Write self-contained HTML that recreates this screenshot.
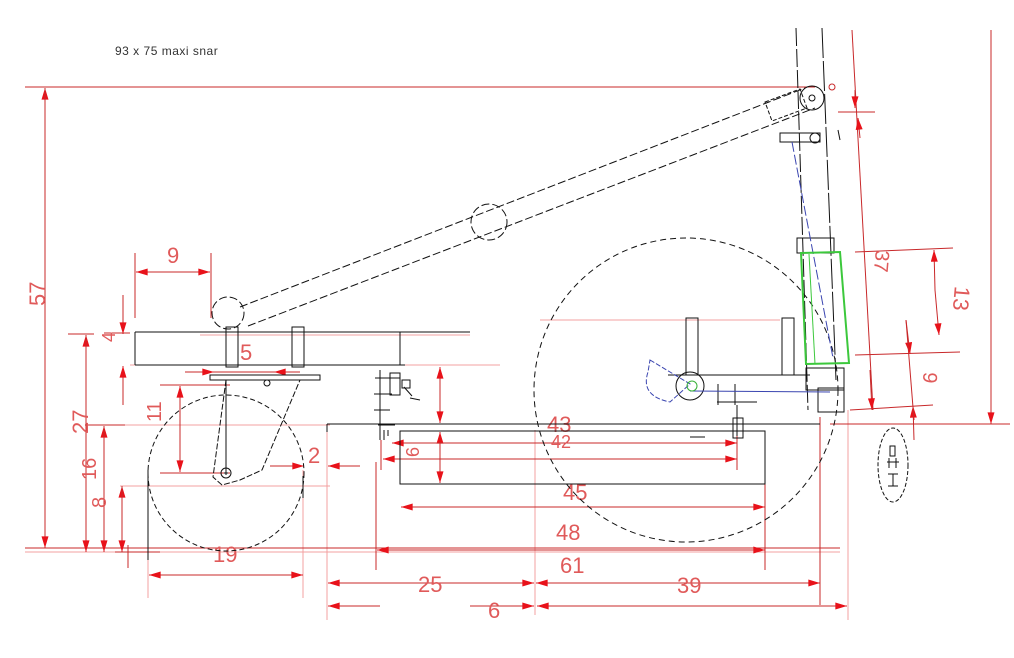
<!DOCTYPE html>
<html><head><meta charset="utf-8"><style>
html,body{margin:0;padding:0;background:#fff}
svg{display:block}
text{font-family:"Liberation Sans",sans-serif}
</style></head><body>
<svg width="1014" height="658" viewBox="0 0 1014 658" xmlns="http://www.w3.org/2000/svg">
<defs>
<marker id="a" viewBox="0 0 10 6" refX="10" refY="3" markerWidth="18" markerHeight="7" markerUnits="userSpaceOnUse" orient="auto"><path d="M0,0 L10,3 L0,6z" fill="#e8121a"/></marker>
</defs>
<rect width="1014" height="658" fill="#fff"/>
<text x="115" y="55" font-size="12" fill="#333" letter-spacing="0.5">93 x 75 maxi snar</text>

<g stroke="#f3a0a0" stroke-width="1" fill="none">
<line x1="25" y1="552" x2="840" y2="552"/>
<line x1="200" y1="335" x2="470" y2="335"/>
<line x1="100" y1="425" x2="330" y2="425"/>
<line x1="120" y1="486" x2="330" y2="486"/>
<line x1="130" y1="365" x2="500" y2="365"/>
<line x1="540" y1="320" x2="780" y2="320"/>
<line x1="535" y1="430" x2="535" y2="615"/>
<line x1="848" y1="410" x2="848" y2="620"/>
<line x1="327" y1="430" x2="327" y2="620"/>
<line x1="148" y1="550" x2="148" y2="598"/>
<line x1="303" y1="470" x2="303" y2="598"/>
</g>

<g stroke="#c8282a" stroke-width="1" fill="none">
<line x1="25" y1="87" x2="815" y2="87"/>
<line x1="25" y1="548" x2="840" y2="548"/>
<line x1="830" y1="424" x2="1010" y2="424"/>
<line x1="991" y1="30" x2="991" y2="424" marker-end="url(#a)"/>
<line x1="45" y1="548" x2="45" y2="88" marker-end="url(#a)"/>
<line x1="45" y1="88" x2="45" y2="548" marker-end="url(#a)"/>
<line x1="68" y1="334" x2="94" y2="334"/>
<line x1="86" y1="548" x2="86" y2="335" marker-end="url(#a)"/>
<line x1="86" y1="335" x2="86" y2="552" marker-end="url(#a)"/>
<line x1="85" y1="425" x2="125" y2="425"/>
<line x1="104" y1="548" x2="104" y2="426" marker-end="url(#a)"/>
<line x1="104" y1="426" x2="104" y2="552" marker-end="url(#a)"/>
<line x1="122" y1="548" x2="122" y2="486" marker-end="url(#a)"/>
<line x1="122" y1="486" x2="122" y2="552" marker-end="url(#a)"/>
<line x1="123" y1="295" x2="123" y2="334" marker-end="url(#a)"/>
<line x1="123" y1="405" x2="123" y2="366" marker-end="url(#a)"/>
<line x1="104" y1="333" x2="130" y2="333"/>
<line x1="135" y1="253" x2="135" y2="318"/>
<line x1="211" y1="253" x2="211" y2="318"/>
<line x1="172" y1="272" x2="136" y2="272" marker-end="url(#a)"/>
<line x1="172" y1="272" x2="210" y2="272" marker-end="url(#a)"/>
<line x1="185" y1="372" x2="290" y2="372"/>
<line x1="200" y1="372" x2="214" y2="372" marker-end="url(#a)"/>
<line x1="300" y1="372" x2="274" y2="372" marker-end="url(#a)"/>
<line x1="160" y1="385" x2="230" y2="385"/>
<line x1="160" y1="473" x2="230" y2="473"/>
<line x1="180" y1="430" x2="180" y2="386" marker-end="url(#a)"/>
<line x1="180" y1="430" x2="180" y2="472" marker-end="url(#a)"/>
<line x1="225" y1="575" x2="149" y2="575" marker-end="url(#a)"/>
<line x1="225" y1="575" x2="303" y2="575" marker-end="url(#a)"/>
<line x1="300" y1="466" x2="270" y2="466"/>
<line x1="280" y1="466" x2="304" y2="466" marker-end="url(#a)"/>
<line x1="360" y1="466" x2="328" y2="466" marker-end="url(#a)"/>
<line x1="128" y1="545" x2="128" y2="568"/>
<line x1="115" y1="552" x2="160" y2="552"/>
<line x1="440" y1="395" x2="440" y2="367" marker-end="url(#a)"/>
<line x1="440" y1="395" x2="440" y2="423" marker-end="url(#a)"/>
<line x1="440" y1="457" x2="440" y2="432" marker-end="url(#a)"/>
<line x1="440" y1="457" x2="440" y2="483" marker-end="url(#a)"/>
<line x1="460" y1="443" x2="392" y2="443" marker-end="url(#a)"/>
<line x1="460" y1="443" x2="737" y2="443" marker-end="url(#a)"/>
<line x1="420" y1="459" x2="383" y2="459" marker-end="url(#a)"/>
<line x1="420" y1="459" x2="737" y2="459" marker-end="url(#a)"/>
<line x1="737" y1="435" x2="737" y2="470"/>
<line x1="381" y1="440" x2="381" y2="470"/>
<line x1="560" y1="507" x2="401" y2="507" marker-end="url(#a)"/>
<line x1="560" y1="507" x2="765" y2="507" marker-end="url(#a)"/>
<line x1="765" y1="455" x2="765" y2="570"/>
<line x1="376" y1="462" x2="376" y2="570"/>
<line x1="410" y1="550" x2="377" y2="550" marker-end="url(#a)"/>
<line x1="410" y1="550" x2="765" y2="550" marker-end="url(#a)"/>
<line x1="380" y1="583" x2="328" y2="583" marker-end="url(#a)"/>
<line x1="380" y1="583" x2="534" y2="583" marker-end="url(#a)"/>
<line x1="600" y1="583" x2="536" y2="583" marker-end="url(#a)"/>
<line x1="600" y1="583" x2="820" y2="583" marker-end="url(#a)"/>
<line x1="820" y1="417" x2="820" y2="605"/>
<line x1="380" y1="606" x2="328" y2="606" marker-end="url(#a)"/>
<line x1="470" y1="606" x2="534" y2="606" marker-end="url(#a)"/>
<line x1="600" y1="606" x2="537" y2="606" marker-end="url(#a)"/>
<line x1="600" y1="606" x2="847" y2="606" marker-end="url(#a)"/>
<line x1="852" y1="30" x2="873" y2="410"/>
<line x1="855" y1="90" x2="855" y2="108" marker-end="url(#a)"/>
<line x1="860" y1="138" x2="858" y2="118" marker-end="url(#a)"/>
<line x1="838" y1="112" x2="875" y2="112"/>
<line x1="870" y1="370" x2="872" y2="410" marker-end="url(#a)"/>
<line x1="855" y1="252" x2="953" y2="248"/>
<line x1="855" y1="355" x2="960" y2="352"/>
<line x1="850" y1="410" x2="933" y2="405"/>
<line x1="935" y1="290" x2="934" y2="250" marker-end="url(#a)"/>
<line x1="935" y1="290" x2="939" y2="335" marker-end="url(#a)"/>
<line x1="906" y1="320" x2="910" y2="354" marker-end="url(#a)"/>
<line x1="914" y1="440" x2="913" y2="406" marker-end="url(#a)"/>
<line x1="906" y1="320" x2="914" y2="420"/>
<circle cx="832" cy="87" r="3"/>
</g>

<g fill="#e05a5a" font-size="22">
<text x="39" y="330" transform="rotate(-90 30 315)" font-size="22">57</text>
<text x="80" y="458" transform="rotate(-90 72 442)">27</text>
<text x="96" y="496" transform="rotate(-90 88 488)" font-size="20">16</text>
<text x="108" y="522" transform="rotate(-90 100 516)" font-size="20">8</text>
<text x="114" y="359" transform="rotate(-90 106 350)" font-size="18">4</text>
<text x="167" y="263">9</text>
<text x="240" y="360">5</text>
<text x="163" y="440" transform="rotate(-90 153 432)" font-size="20">11</text>
<text x="308" y="463">2</text>
<text x="213" y="562">19</text>
<text x="412" y="464" transform="rotate(-90 412 457)" font-size="18">6</text>
<text x="547" y="432">43</text>
<text x="551" y="448" font-size="18">42</text>
<text x="563" y="500">45</text>
<text x="556" y="540">48</text>
<text x="560" y="573">61</text>
<text x="418" y="592">25</text>
<text x="677" y="593">39</text>
<text x="488" y="618">6</text>
<text x="870" y="265" transform="rotate(95 880 260)" font-size="20">37</text>
<text x="948" y="300" transform="rotate(95 958 296)">13</text>
<text x="920" y="385" transform="rotate(95 928 380)" font-size="20">9</text>
</g>

<g stroke="#111" stroke-width="1" fill="none">
<line x1="135" y1="332" x2="470" y2="332"/>
<line x1="135" y1="332" x2="135" y2="365"/>
<line x1="135" y1="365" x2="405" y2="365"/>
<line x1="400" y1="332" x2="400" y2="365"/>
<rect x="226" y="327" width="12" height="40"/>
<rect x="292" y="327" width="12" height="40"/>
<rect x="210" y="375" width="110" height="5"/>
<circle cx="267" cy="383" r="3"/>
<line x1="226" y1="380" x2="226" y2="472"/>
<path d="M226 380 L213 477 L222 485 L240 480 L262 470 L300 380" stroke-dasharray="6 2"/>
<circle cx="226" cy="473" r="5"/>
<path d="M224 473h4M226 471v4"/>
<circle cx="226" cy="473" r="78" stroke-dasharray="5 3"/>
<line x1="148" y1="470" x2="148" y2="560"/>
<line x1="303" y1="476" x2="303" y2="498"/>
<circle cx="686" cy="390" r="152" stroke-dasharray="6 4"/>
<g stroke-dasharray="8 3">
<line x1="240" y1="307" x2="805" y2="88"/>
<line x1="248" y1="326" x2="815" y2="108"/>
<circle cx="228" cy="313" r="16"/>
<circle cx="489" cy="222" r="18"/>
</g>
<path d="M765 102 L800 89 L807 108 L772 121z" stroke-dasharray="4 2"/>
<circle cx="812" cy="98" r="12"/>
<circle cx="812" cy="98" r="3"/>
<line x1="796" y1="28" x2="808" y2="410" stroke-dasharray="18 3"/>
<line x1="822" y1="28" x2="836" y2="380" stroke-dasharray="30 3"/>
<line x1="838" y1="130" x2="840" y2="140"/>
<rect x="780" y="133" width="40" height="9"/>
<circle cx="815" cy="138" r="5"/>
<rect x="797" y="238" width="37" height="15"/>
<rect x="806" y="368" width="38" height="22"/>
<rect x="818" y="388" width="26" height="24"/>
<rect x="686" y="318" width="12" height="57"/>
<rect x="782" y="318" width="12" height="57"/>
<line x1="668" y1="375" x2="810" y2="375"/>
<circle cx="690" cy="386" r="14"/>
<path d="M718 384 L718 405 M735 384 L735 405 M717 402 H757 M737 405 V436"/>
<rect x="733" y="418" width="10" height="20"/>
<line x1="327" y1="424" x2="820" y2="424"/>
<line x1="327" y1="424" x2="327" y2="432"/>
<rect x="400" y="431" width="365" height="53"/>
<line x1="690" y1="437" x2="705" y2="437"/>
<path d="M380 370 V440 M375 378 H400 M374 394 H392 M374 410 H390 M378 425 H395 M384 430 V440 M388 430 V436"/>
<rect x="390" y="373" width="10" height="22"/>
<rect x="402" y="380" width="8" height="8"/>
<path d="M404 387 L412 396 M410 398 L420 400"/>
<ellipse cx="893" cy="465" rx="15" ry="37" stroke-dasharray="4 2"/>
<path d="M890 446 h5 v10 h-5z M887 462 h12 M889 458 v10 M896 458 v10 M888 474 h10 M893 474 v12 M888 486 h10"/>
</g>
<g fill="none" stroke-width="1">
<path d="M650 360 L690 384 L670 402 Q640 396 648 372z" stroke="#3a45b0" stroke-dasharray="5 2"/>
<line x1="690" y1="391" x2="830" y2="392" stroke="#3a45b0"/>
<line x1="792" y1="142" x2="833" y2="358" stroke="#3a45b0" stroke-dasharray="10 3"/>
<circle cx="692" cy="386" r="5" stroke="#35b035"/>
<path d="M801 253 L840 252 L849 363 L806 364z" stroke="#3cc83c" stroke-width="2"/>
<line x1="809" y1="254" x2="815" y2="364" stroke="#3cc83c"/>
</g>
</svg>
</body></html>
